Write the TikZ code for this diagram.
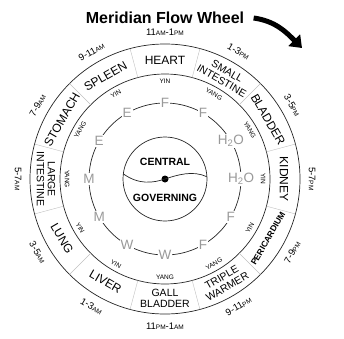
\documentclass[tikz,border=0pt]{standalone}
\usepackage{fontspec}
\setmainfont{Liberation Sans}
\usetikzlibrary{arrows.meta}
\newcommand{\hAM}{{\fontsize{6.5}{7}\selectfont AM}}
\newcommand{\hPM}{{\fontsize{6.5}{7}\selectfont PM}}

\begin{document}
\begin{tikzpicture}[x=1pt,y=1pt,
  ring/.style={black!85,line width=0.7pt},
  divider/.style={black!25,line width=0.4pt},
  organ/.style={align=center,inner sep=0pt},
  yinyang/.style={inner sep=0pt,font=\fontsize{6.5}{7}\selectfont},
  hours/.style={inner sep=0pt,font=\fontsize{9.5}{10}\selectfont},
  element/.style={fill=white,text=black!40,inner sep=1pt,font=\fontsize{13.5}{13.5}\selectfont},
  centre/.style={inner sep=0pt,font=\fontsize{10.5}{11}\selectfont\bfseries}]
\useasboundingbox (0,0) rectangle (344,338);
\node[font=\fontsize{16}{16}\selectfont\bfseries] (title) at (165,320) {Meridian Flow Wheel};
\coordinate (arrowend) at (302,290);
\draw[line width=5pt,-{Triangle[length=11pt,width=16pt]}] ([xshift=6pt]title.east) to[out=-8,in=135] (arrowend);
\begin{scope}[shift={(165,159)}]
\coordinate (c) at (0,0);
\draw[ring] (c) circle (135);
\draw[ring] (c) circle (105);
\draw[ring] (c) circle (76);
\draw[ring] (c) circle (42);
\foreach \a in {15,45,...,345} \draw[divider] (\a:105) -- (\a:135);
% organ, yin/yang, element and hours, clockwise from the top
\foreach \ang/\rot/\fs/\org/\yy/\el/\hr [count=\i] in {
  90/0/12/HEART/YIN/F/{11\hAM-1\hPM},
  60/-30/10.5/{SMALL\\INTESTINE}/YANG/F/{1-3\hPM},
  30/-60/12/BLADDER/YANG/{H\textsubscript{2}O}/{3-5\hPM},
  0/-90/12/KIDNEY/YIN/{H\textsubscript{2}O}/{5-7\hPM},
  -30/60/8.5/{\bfseries PERICARDIUM}/YIN/F/{7-9\hPM},
  -60/30/10.5/{TRIPLE\\WARMER}/YANG/F/{9-11\hPM},
  -90/0/10.5/{GALL\\BLADDER}/YANG/W/{11\hPM-1\hAM},
  -120/-30/12/LIVER/YIN/W/{1-3\hAM},
  -150/-60/12/LUNG/YIN/M/{3-5\hAM},
  180/-90/10.5/{LARGE\\INTESTINE}/YANG/M/{5-7\hAM},
  150/60/12/STOMACH/YANG/E/{7-9\hAM},
  120/30/12/SPLEEN/YIN/E/{9-11\hAM}}{
  \node[organ,rotate=\rot,font=\fontsize{\fs}{11}\selectfont] (organ\i) at (\ang:119) {\org};
  \node[yinyang,rotate=\rot] (yy\i) at (\ang:98) {\yy};
  \node[element] (el\i) at (\ang:76) {\el};
  \node[hours,rotate=\rot] (hr\i) at (\ang:147) {\hr};
}
% centre
\fill (c) circle (3.5);
\draw[ring] (173:42) .. controls (-26,-6) and (-12,-4) .. (c) .. controls (12,4) and (28,9) .. (3:42);
\node[centre] (central) at (0,17) {CENTRAL};
\node[centre] (governing) at (0,-19) {GOVERNING};
\end{scope}
\end{tikzpicture}
\end{document}
